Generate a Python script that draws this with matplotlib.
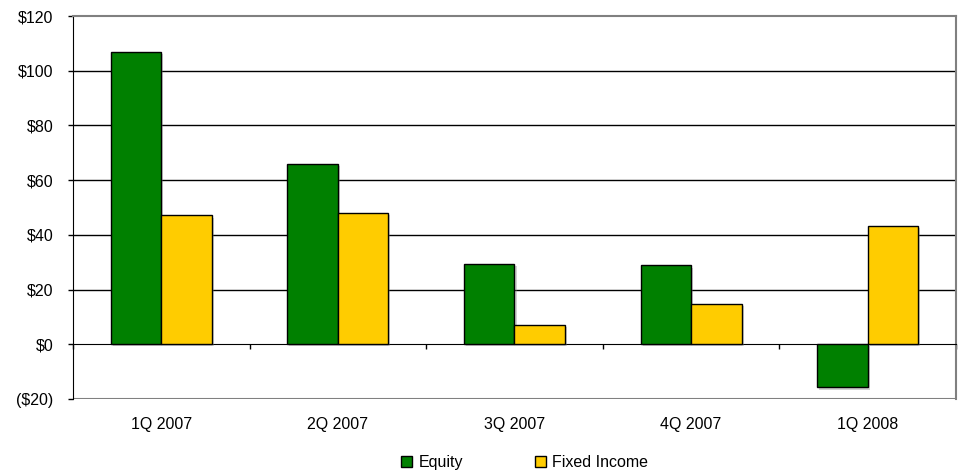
import numpy as np
import matplotlib
matplotlib.use("Agg")
import matplotlib.pyplot as plt
from matplotlib.patches import Patch
import matplotlib.patheffects as pe

plt.rcParams['font.family'] = ['Liberation Sans', 'DejaVu Sans']

quarters = ['1Q 2007', '2Q 2007', '3Q 2007', '4Q 2007', '1Q 2008']
equity = [106.7, 65.8, 29.2, 28.8, -15.8]
fixed_income = [47.1, 48.0, 7.2, 14.9, 43.3]
yticks = [-20, 0, 20, 40, 60, 80, 100, 120]

green = '#008000'
yellow = '#FFCC00'
fs = 11.5

fig = plt.figure(figsize=(9.59, 4.72), dpi=100)
ax = fig.add_axes([0.0761, 0.1547, 0.9207, 0.8114])

x = np.arange(1, len(quarters) + 1)
w = 1 / 3.5
shadow = [pe.SimplePatchShadow(offset=(1.5, -1.5), shadow_rgbFace='gray', alpha=0.35), pe.Normal()]
b1 = ax.bar(x - w / 2, equity, w, color=green, edgecolor='black', lw=1, zorder=3)
b2 = ax.bar(x + w / 2, fixed_income, w, color=yellow, edgecolor='black', lw=1, zorder=3)
for b in list(b1) + list(b2):
    b.set_path_effects(shadow)

ax.set_xlim(0.5, len(quarters) + 0.5)
ax.set_ylim(-20, 120)

# y axis
def money(v):
    return '(${:d})'.format(int(-v)) if v < 0 else '${:d}'.format(int(v))
ax.set_yticks(yticks)
ax.set_yticklabels([money(v) for v in yticks], fontsize=fs)
ax.tick_params(axis='y', direction='out', length=3.6, width=1, pad=10.5, colors='black')
for v in yticks[2:-1]:
    ax.axhline(v, color='black', lw=1, zorder=1)
ax.axhline(-20, color='#808080', lw=1.5, zorder=2)

# x axis sits on zero, ticks between categories
ax.spines['bottom'].set_position(('data', 0))
ax.spines['bottom'].set_color('black')
ax.set_xticks(np.arange(0.5, len(quarters) + 1, 1))
ax.set_xticklabels([])
ax.tick_params(axis='x', direction='out', length=3.6, width=1, colors='black')
for xi, q in zip(x, quarters):
    ax.text(xi, -0.066, q, transform=ax.get_xaxis_transform(), ha='center', va='center', fontsize=fs)

ax.spines['left'].set_color('black')
ax.spines['top'].set_color('#808080')
ax.spines['right'].set_color('#808080')
ax.spines['top'].set_linewidth(1.5)
ax.spines['right'].set_linewidth(1.5)

handles = [Patch(facecolor=green, edgecolor='black', label='Equity'),
           Patch(facecolor=yellow, edgecolor='black', label='Fixed Income')]
fig.legend(handles=handles, loc='center', bbox_to_anchor=(0.547, 0.02), ncol=2, frameon=False,
           fontsize=fs, handlelength=0.7, handleheight=0.7, handletextpad=0.4, columnspacing=4.5)

fig.savefig('out.png', dpi=100)
